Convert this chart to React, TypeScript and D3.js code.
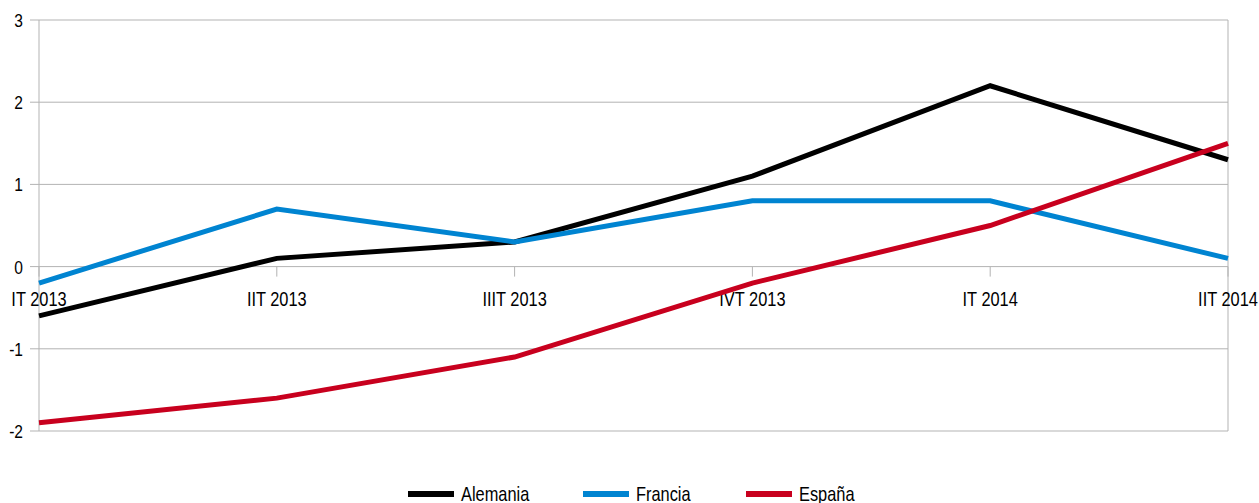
import React from "react";
import * as d3 from "d3";

const categories = ["IT 2013", "IIT 2013", "IIIT 2013", "IVT 2013", "IT 2014", "IIT 2014"];
const alemania = [-0.6, 0.1, 0.3, 1.1, 2.2, 1.3];
const francia = [-0.2, 0.7, 0.3, 0.8, 0.8, 0.1];
const espana = [-1.9, -1.6, -1.1, -0.2, 0.5, 1.5];
const yTicks = [-2, -1, 0, 1, 2, 3];

const series = [
  { name: "Alemania", values: alemania, color: "#000000" },
  { name: "Francia", values: francia, color: "#0084d1" },
  { name: "España", values: espana, color: "#c8001e" },
];

const W = 1259;
const H = 503;
const left = 39;
const right = 1228;
const top = 20;
const bottom = 431;
const font = "'Liberation Sans', Arial, sans-serif";
const SX = 0.82;

function NText(props: { x: number; y: number; anchor?: string; size?: number; children: React.ReactNode }) {
  const { x, y, anchor = "start", size = 20, children } = props;
  return (
    <text
      transform={`translate(${x},${y}) scale(${SX},1)`}
      textAnchor={anchor as any}
      fontSize={size}
      fill="#000"
    >
      {children}
    </text>
  );
}

export default function App() {
  const x = d3.scalePoint<string>().domain(categories).range([left, right]);
  const y = d3.scaleLinear().domain([-2, 3]).range([bottom, top]);
  const line = d3
    .line<number>()
    .x((_, i) => x(categories[i]) as number)
    .y((d) => y(d));
  const legendX = [408, 583, 746];
  return (
    <svg
      width={W}
      height={H}
      style={{ position: "absolute", left: 0, top: 0 }}
      fontFamily={font}
    >
      <rect width={W} height={H} fill="#fff" />
      {yTicks.map((t) => (
        <g key={t}>
          <line x1={30} x2={right} y1={y(t)} y2={y(t)} stroke="#b3b3b3" strokeWidth={1} />
          <NText x={23} y={y(t) + 7} anchor="end" size={19}>
            {t}
          </NText>
        </g>
      ))}
      <line x1={left} x2={left} y1={top} y2={bottom} stroke="#b3b3b3" strokeWidth={1} />
      <line x1={right} x2={right} y1={top} y2={bottom} stroke="#b3b3b3" strokeWidth={1} />
      {categories.map((c) => (
        <g key={c}>
          <line x1={x(c)} x2={x(c)} y1={y(0)} y2={y(0) + 10} stroke="#b3b3b3" strokeWidth={1} />
          <NText x={x(c) as number} y={y(0) + 39} anchor="middle">
            {c}
          </NText>
        </g>
      ))}
      {series.map((s) => (
        <path
          key={s.name}
          d={line(s.values) as string}
          fill="none"
          stroke={s.color}
          strokeWidth={5}
          strokeLinejoin="miter"
        />
      ))}
      {series.map((s, i) => (
        <g key={s.name}>
          <line x1={legendX[i]} x2={legendX[i] + 46} y1={494} y2={494} stroke={s.color} strokeWidth={6} />
          <NText x={legendX[i] + 53} y={501}>
            {s.name}
          </NText>
        </g>
      ))}
    </svg>
  );
}
